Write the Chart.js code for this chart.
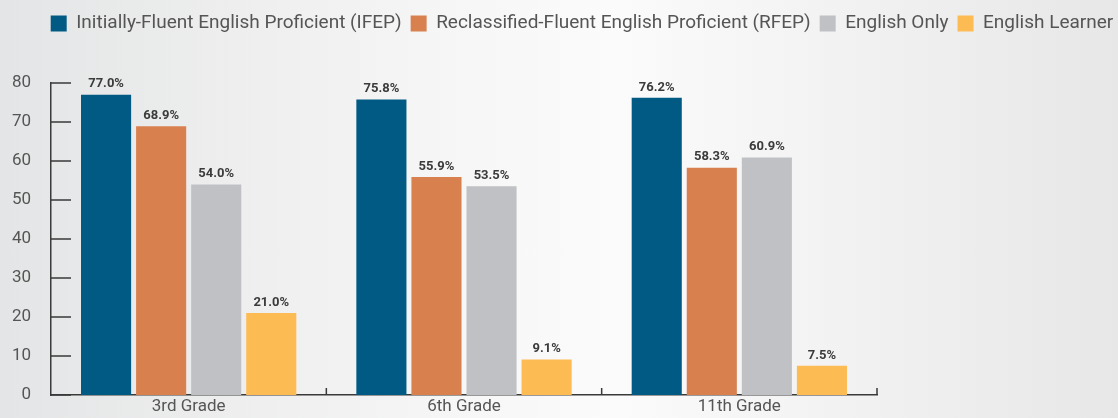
<!DOCTYPE html>
<html>
<head>
<meta charset="utf-8">
<script src="https://cdn.jsdelivr.net/npm/chart.js@4.4.0/dist/chart.umd.min.js"></script>
<style>
    html, body { margin: 0; padding: 0; }
    body {
        width: 1118px; height: 418px; overflow: hidden;
        background: linear-gradient(to right, #e4e5e6 0%, #f6f6f6 40%, #fbfbfb 55%, #e7e7e7 100%);
    }
    #wrap { position: relative; width: 1118px; height: 418px; }
</style>
</head>
<body>
<div id="wrap"><canvas id="chart"></canvas></div>
<script>
// === DATOS ===
const grades = ["3rd Grade", "6th Grade", "11th Grade"];
const ifep = [77.0, 75.8, 76.2];
const rfep = [68.9, 55.9, 58.3];
const englishOnly = [54.0, 53.5, 60.9];
const englishLearner = [21.0, 9.1, 7.5];
const seriesNames = [
    "Initially-Fluent English Proficient (IFEP)",
    "Reclassified-Fluent English Proficient (RFEP)",
    "English Only",
    "English Learner"
];
const seriesColors = ["#005a84", "#d8814f", "#c0c1c4", "#fdbb54"];

const FONT = "Roboto, 'Noto Sans', sans-serif";

// etiquetas de valor sobre cada barra
const valueLabels = {
    id: "valueLabels",
    afterDatasetsDraw(chart) {
        const ctx = chart.ctx;
        ctx.save();
        ctx.font = "bold 13px " + FONT;
        ctx.fillStyle = "#3b3b3b";
        ctx.textAlign = "center";
        ctx.textBaseline = "bottom";
        chart.data.datasets.forEach((ds, i) => {
            chart.getDatasetMeta(i).data.forEach((bar, j) => {
                ctx.fillText(ds.data[j].toFixed(1) + "%", bar.x, bar.y - 4);
            });
        });
        ctx.restore();
    }
};

// marcas cortas hacia dentro en ambos ejes
const axisTicks = {
    id: "axisTicks",
    afterDraw(chart) {
        const { ctx, scales: { x, y } } = chart;
        ctx.save();
        ctx.strokeStyle = "#3a3a3a";
        ctx.lineWidth = 1.5;
        ctx.beginPath();
        y.ticks.forEach(t => {
            const py = y.getPixelForValue(t.value);
            ctx.moveTo(x.left, py);
            ctx.lineTo(x.left + 20, py);
        });
        for (let i = 1; i <= grades.length; i++) {
            const px = x.getPixelForValue(i - 0.5);
            ctx.moveTo(px, y.bottom);
            ctx.lineTo(px, y.bottom - 7);
        }
        ctx.stroke();
        ctx.restore();
    }
};

new Chart(document.getElementById("chart"), {
    type: "bar",
    data: {
        labels: grades,
        datasets: [ifep, rfep, englishOnly, englishLearner].map((d, i) => ({
            label: seriesNames[i],
            data: d,
            backgroundColor: seriesColors[i],
            categoryPercentage: 0.8,
            barPercentage: 0.91
        }))
    },
    options: {
        responsive: true,
        maintainAspectRatio: false,
        animation: false,
        // el padding negativo a la derecha desplaza el centro de la leyenda
        layout: { padding: { top: 5, bottom: 0, left: 0, right: -46 } },
        plugins: {
            legend: {
                position: "top",
                labels: {
                    boxWidth: 16, boxHeight: 16,
                    padding: 9,
                    color: "#555",
                    font: { family: FONT, size: 19 }
                }
            },
            // espacio vacío entre leyenda y gráfico
            subtitle: {
                display: true, text: "", weight: 500,
                font: { size: 10, lineHeight: 1 },
                padding: { top: 0, bottom: 30 }
            },
            tooltip: { enabled: false }
        },
        scales: {
            x: {
                grid: { display: false, drawTicks: false },
                border: { display: true, color: "#3a3a3a", width: 1.5 },
                ticks: { color: "#555", font: { family: FONT, size: 17 }, padding: 2 },
                afterFit: s => { s.height = 23; }
            },
            y: {
                min: 0, max: 80,
                grid: { display: false, drawTicks: true, tickLength: 20 },
                border: { display: true, color: "#3a3a3a", width: 1.5 },
                ticks: { stepSize: 10, color: "#555", font: { family: FONT, size: 17 }, padding: 0 },
                afterFit: s => { s.width = 51; }
            },
            spacer: {
                type: "linear", axis: "y", position: "right",
                grid: { display: false, drawTicks: false }, border: { display: false },
                ticks: { display: false },
                afterFit: s => { s.width = 287; }
            }
        }
    },
    plugins: [valueLabels, axisTicks]
});
</script>
</body>
</html>
